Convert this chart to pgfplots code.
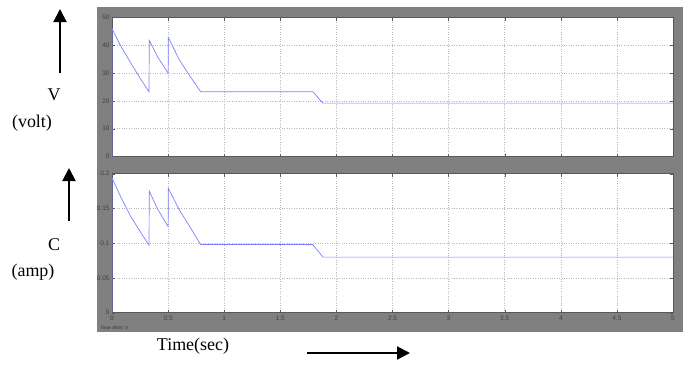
\documentclass[border=0pt]{standalone}
\usepackage{pgfplots}
\pgfplotsset{compat=1.18}
\usepackage{fontspec}
\setmainfont{Liberation Serif}
\setsansfont{Liberation Sans}
\usetikzlibrary{arrows.meta}
\definecolor{bg}{RGB}{128,128,128}
\definecolor{ln}{RGB}{128,128,255}
\pgfplotstableread{
x y
0 0
0 46
0.08 39.6
0.165 33.8
0.25 28.2
0.33 23.3
0.332 41.8
0.41 35.6
0.5 30
0.502 42.8
0.6 34.8
0.7 28.6
0.79 23.3
1.79 23.3
1.88 19.2
5 19.2
}\voltdata
\pgfplotstableread{
x y
0 0
0 0.194
0.08 0.166
0.165 0.139
0.25 0.117
0.33 0.097
0.332 0.175
0.41 0.148
0.5 0.124
0.502 0.179
0.6 0.148
0.7 0.122
0.79 0.098
1.79 0.098
1.88 0.080
5 0.080
}\ampdata
\pgfplotsset{
  mystyle/.style={
    scale only axis, width=561bp, height=139bp,
    xmin=0, xmax=5,
    xtick={0,0.5,...,5},
    axis background/.style={fill=white},
    grid=major,
    major grid style={dotted, gray!55, line width=0.5pt},
    tick align=inside,
    major tick length=3bp,
    axis line style={black!65, line width=0.6pt},
    every tick/.style={black!65},
    tick label style={font=\fontsize{6.5}{7.5}\selectfont\sffamily, text=black!75},
    /pgf/number format/assume math mode=true,
    yticklabel style={xshift=1bp},
  }
}
\begin{document}
\begin{tikzpicture}
\path[use as bounding box] (0,0) rectangle (683bp,-378bp);
\fill[bg] (97bp,-7bp) rectangle (683bp,-332bp);
\begin{axis}[mystyle, at={(112bp,-156.5bp)}, anchor=south west,
  ymin=0, ymax=50, ytick={0,10,...,50}, xticklabels={}]
\addplot[ln, line width=0.7pt] table[x=x,y=y] {\voltdata};
\end{axis}
\begin{axis}[mystyle, at={(112bp,-312.7bp)}, anchor=south west,
  ymin=0, ymax=0.2, ytick={0,0.05,0.1,0.15,0.2},
  xticklabels={0,0.5,1,1.5,2,2.5,3,3.5,4,4.5,5},
  yticklabels={0,0.05,0.1,0.15,0.2}]
\addplot[ln, line width=0.7pt] table[x=x,y=y] {\ampdata};
\end{axis}
\node[anchor=west, font=\fontsize{4.5}{5}\selectfont\sffamily, text=black!80] at (97bp,-328bp) {Time offset: 0};
\draw[line width=2bp, -{Triangle[length=13bp,width=13bp]}] (60bp,-73bp) -- (60bp,-9bp);
\node[font=\fontsize{18}{20}\selectfont] at (54bp,-95bp) {V};
\node[font=\fontsize{18}{20}\selectfont] at (32bp,-123bp) {(volt)};
\draw[line width=2bp, -{Triangle[length=13bp,width=13bp]}] (69bp,-221bp) -- (69bp,-168bp);
\node[font=\fontsize{18}{20}\selectfont] at (54bp,-245bp) {C};
\node[font=\fontsize{18}{20}\selectfont] at (33bp,-272bp) {(amp)};
\node[font=\fontsize{18}{20}\selectfont] at (193bp,-346bp) {Time(sec)};
\draw[line width=2bp, -{Triangle[length=13bp,width=13bp]}] (307bp,-353bp) -- (410bp,-353bp);
\end{tikzpicture}
\end{document}
